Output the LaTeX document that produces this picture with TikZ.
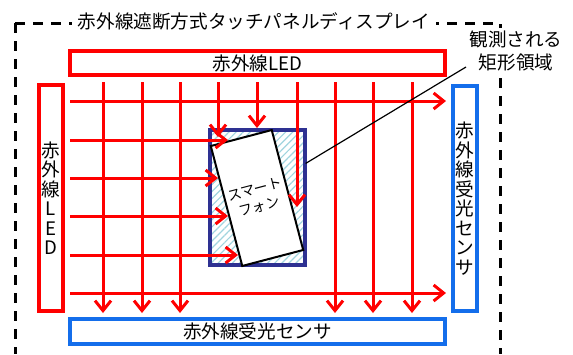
\documentclass[tikz,border=0pt]{standalone}
\usepackage{fontspec}
\newfontfamily\jp{Noto Sans CJK JP}
\usetikzlibrary{arrows.meta,patterns.meta,calc}
\definecolor{irred}{RGB}{255,0,0}
\definecolor{irblue}{RGB}{20,110,235}
\definecolor{navyc}{RGB}{46,49,146}
\definecolor{hatchc}{RGB}{160,212,222}
\begin{document}
\begin{tikzpicture}[x=1pt,y=-1pt,
  lbl/.style={font=\jp\fontsize{18.6}{19.5}\selectfont, align=center},
  redbox/.style={lbl, draw=irred, line width=4pt, inner sep=0pt},
  bluebox/.style={lbl, draw=irblue, line width=4pt, inner sep=0pt},
  ray/.style={draw=irred, line width=3pt, -{Straight Barb[length=10pt,width=16pt]}},
  framed/.style={draw=black, line width=3pt, dash pattern=on 10pt off 8pt},
  navybox/.style={draw=navyc, line width=3.5pt, minimum width=95pt, minimum height=135pt, inner sep=0pt,
     pattern={Lines[angle=45,distance=5pt,line width=1.2pt]}, pattern color=hatchc},
  phonebox/.style={draw=black, line width=2pt, fill=white, minimum width=63pt, minimum height=124pt,
     inner sep=0pt, align=center, font=\jp\fontsize{14}{18}\selectfont},
  leader/.style={draw=black, line width=1.2pt}]
\useasboundingbox (0,0) rectangle (573,354);
% dashed outer frame
\coordinate (ftl) at (15,23);
\coordinate (fbl) at (15,354);
\coordinate (ftr) at (500,23);
\coordinate (fbr) at (500,354);
\draw[framed] (ftl) -- (fbl);
\draw[framed] (ftl) -- (ftr) -- (fbr);
\node[lbl, fill=white, inner xsep=6pt, inner ysep=2pt] (title) at (254,21) {赤外線遮断方式タッチパネルディスプレイ};
% boxes
\node[redbox, minimum width=375pt, minimum height=24pt] (ledtop) at (257.5,63) {赤外線LED};
\node[redbox, minimum width=24pt, minimum height=226pt] (ledleft) at (51,198) {赤\\外\\線\\L\\E\\D};
\node[bluebox, minimum width=24pt, minimum height=225pt] (sensright) at (465,198.5) {赤\\外\\線\\受\\光\\セ\\ン\\サ};
\node[bluebox, minimum width=375pt, minimum height=25pt] (sensbot) at (257.5,331.5) {赤外線受光センサ};
% observed area and phone
\node[navybox] (area) at (257.5,197.5) {};
\node[phonebox, rotate=14.7] (phone) at (257,198) {スマート\\フォン};
% rays
\foreach \yy/\xe [count=\i] in {101/446,140/228,178/218,216/228,255/238,293/446}{
  \coordinate (hs\i) at (70,\yy);
  \coordinate (he\i) at (\xe,\yy);
  \draw[ray] (hs\i) -- (he\i);
}
\foreach \xx/\ye [count=\i] in {103/313,142/313,180/313,218/137,257/128,297/207,335/313,373/313,412/313}{
  \coordinate (vs\i) at (\xx,82);
  \coordinate (ve\i) at (\xx,\ye);
  \draw[ray] (vs\i) -- (ve\i);
}
% leader and label
\coordinate (lp) at ($(area.north east)!0.25!(area.south east)$);
\coordinate (le) at (466,67);
\draw[leader] (lp) -- (le);
\node[font=\jp\fontsize{18.6}{23}\selectfont, align=center, fill=white, inner sep=2pt] (obs) at (516,50.5) {観測される\\矩形領域};
\end{tikzpicture}
\end{document}
